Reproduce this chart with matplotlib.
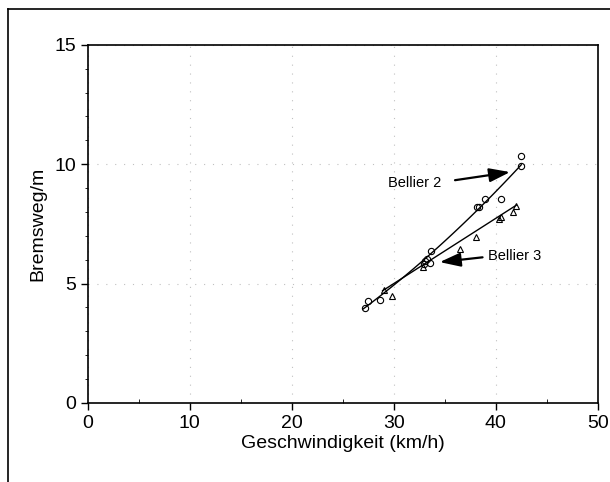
import numpy as np
import matplotlib
matplotlib.use("Agg")
import matplotlib.pyplot as plt
from matplotlib.lines import Line2D
from matplotlib.ticker import MultipleLocator

plt.rcParams['font.family'] = ['Liberation Sans', 'DejaVu Sans']

# Bellier 2 (circles)
b2_x = [27.2, 27.5, 28.6, 33.6, 33.3, 33.1, 33.0, 33.5, 38.2, 38.4, 38.9, 40.5, 42.5, 42.5]
b2_y = [3.99, 4.28, 4.31, 6.36, 6.05, 5.95, 5.82, 5.85, 8.21, 8.21, 8.54, 8.56, 10.33, 9.92]
# Bellier 3 (triangles)
b3_x = [29.0, 29.8, 32.9, 36.5, 38.1, 40.3, 40.5, 41.7, 42.0]
b3_y = [4.72, 4.49, 5.70, 6.44, 6.93, 7.70, 7.80, 8.00, 8.24]
# fitted curves
fit2_x = [27.0, 29.6, 33.5, 38.1, 42.5]
fit2_y = [3.97, 4.80, 6.07, 8.20, 9.92]
fit3_x = [28.9, 42.0]
fit3_y = [4.70, 8.28]

fig = plt.figure(figsize=(6.1, 4.82), dpi=100)
ax = fig.add_axes([0.144, 0.164, 0.836, 0.743])

# smooth quadratic through the read fit points
c2 = np.polyfit(fit2_x, fit2_y, 2)
xx = np.linspace(fit2_x[0], fit2_x[-1], 100)
ax.plot(xx, np.polyval(c2, xx), color='black', lw=1.0)
ax.plot(fit3_x, fit3_y, color='black', lw=1.0)

ax.plot(b2_x, b2_y, 'o', ms=4.5, mfc='none', mec='black', mew=0.8)
ax.plot(b3_x, b3_y, '^', ms=5, mfc='none', mec='black', mew=0.8)

arrow = dict(arrowstyle='-|>,head_length=0.9,head_width=0.3', color='black', lw=1.6,
             mutation_scale=14, shrinkA=0, shrinkB=0)
ax.annotate('', xy=(41.4, 9.67), xytext=(36.0, 9.33), arrowprops=arrow)
ax.text(29.4, 9.2, 'Bellier 2', fontsize=10.5, va='center', ha='left')
ax.annotate('', xy=(34.5, 5.9), xytext=(38.7, 6.1), arrowprops=arrow)
ax.text(39.2, 6.15, 'Bellier 3', fontsize=10.5, va='center', ha='left')

ax.set_xlim(0, 50)
ax.set_ylim(0, 15)
ax.set_xticks([0, 10, 20, 30, 40, 50])
ax.set_yticks([0, 5, 10, 15])
ax.xaxis.set_minor_locator(MultipleLocator(5))
ax.yaxis.set_minor_locator(MultipleLocator(1))
ax.tick_params(which='major', direction='out', length=5, width=1, labelsize=14)
ax.tick_params(axis='x', which='minor', direction='in', length=3)
ax.tick_params(axis='y', which='minor', direction='out', length=2.5)
ax.grid(True, which='major', color='#c0c0c0', linestyle=(0, (1, 7)), lw=0.8)
for s in ax.spines.values():
    s.set_linewidth(1.2)
ax.set_xlabel('Geschwindigkeit (km/h)', fontsize=14, labelpad=2)
ax.set_ylabel('Bremsweg/m', fontsize=14, labelpad=6)

# outer frame (left and top edges)
fig.add_artist(Line2D([8 / 610, 8 / 610], [0, 1 - 9 / 482], transform=fig.transFigure, color='black', lw=1.2))
fig.add_artist(Line2D([8 / 610, 1], [1 - 9 / 482, 1 - 9 / 482], transform=fig.transFigure, color='black', lw=1.2))

fig.savefig('out.png', dpi=100)
